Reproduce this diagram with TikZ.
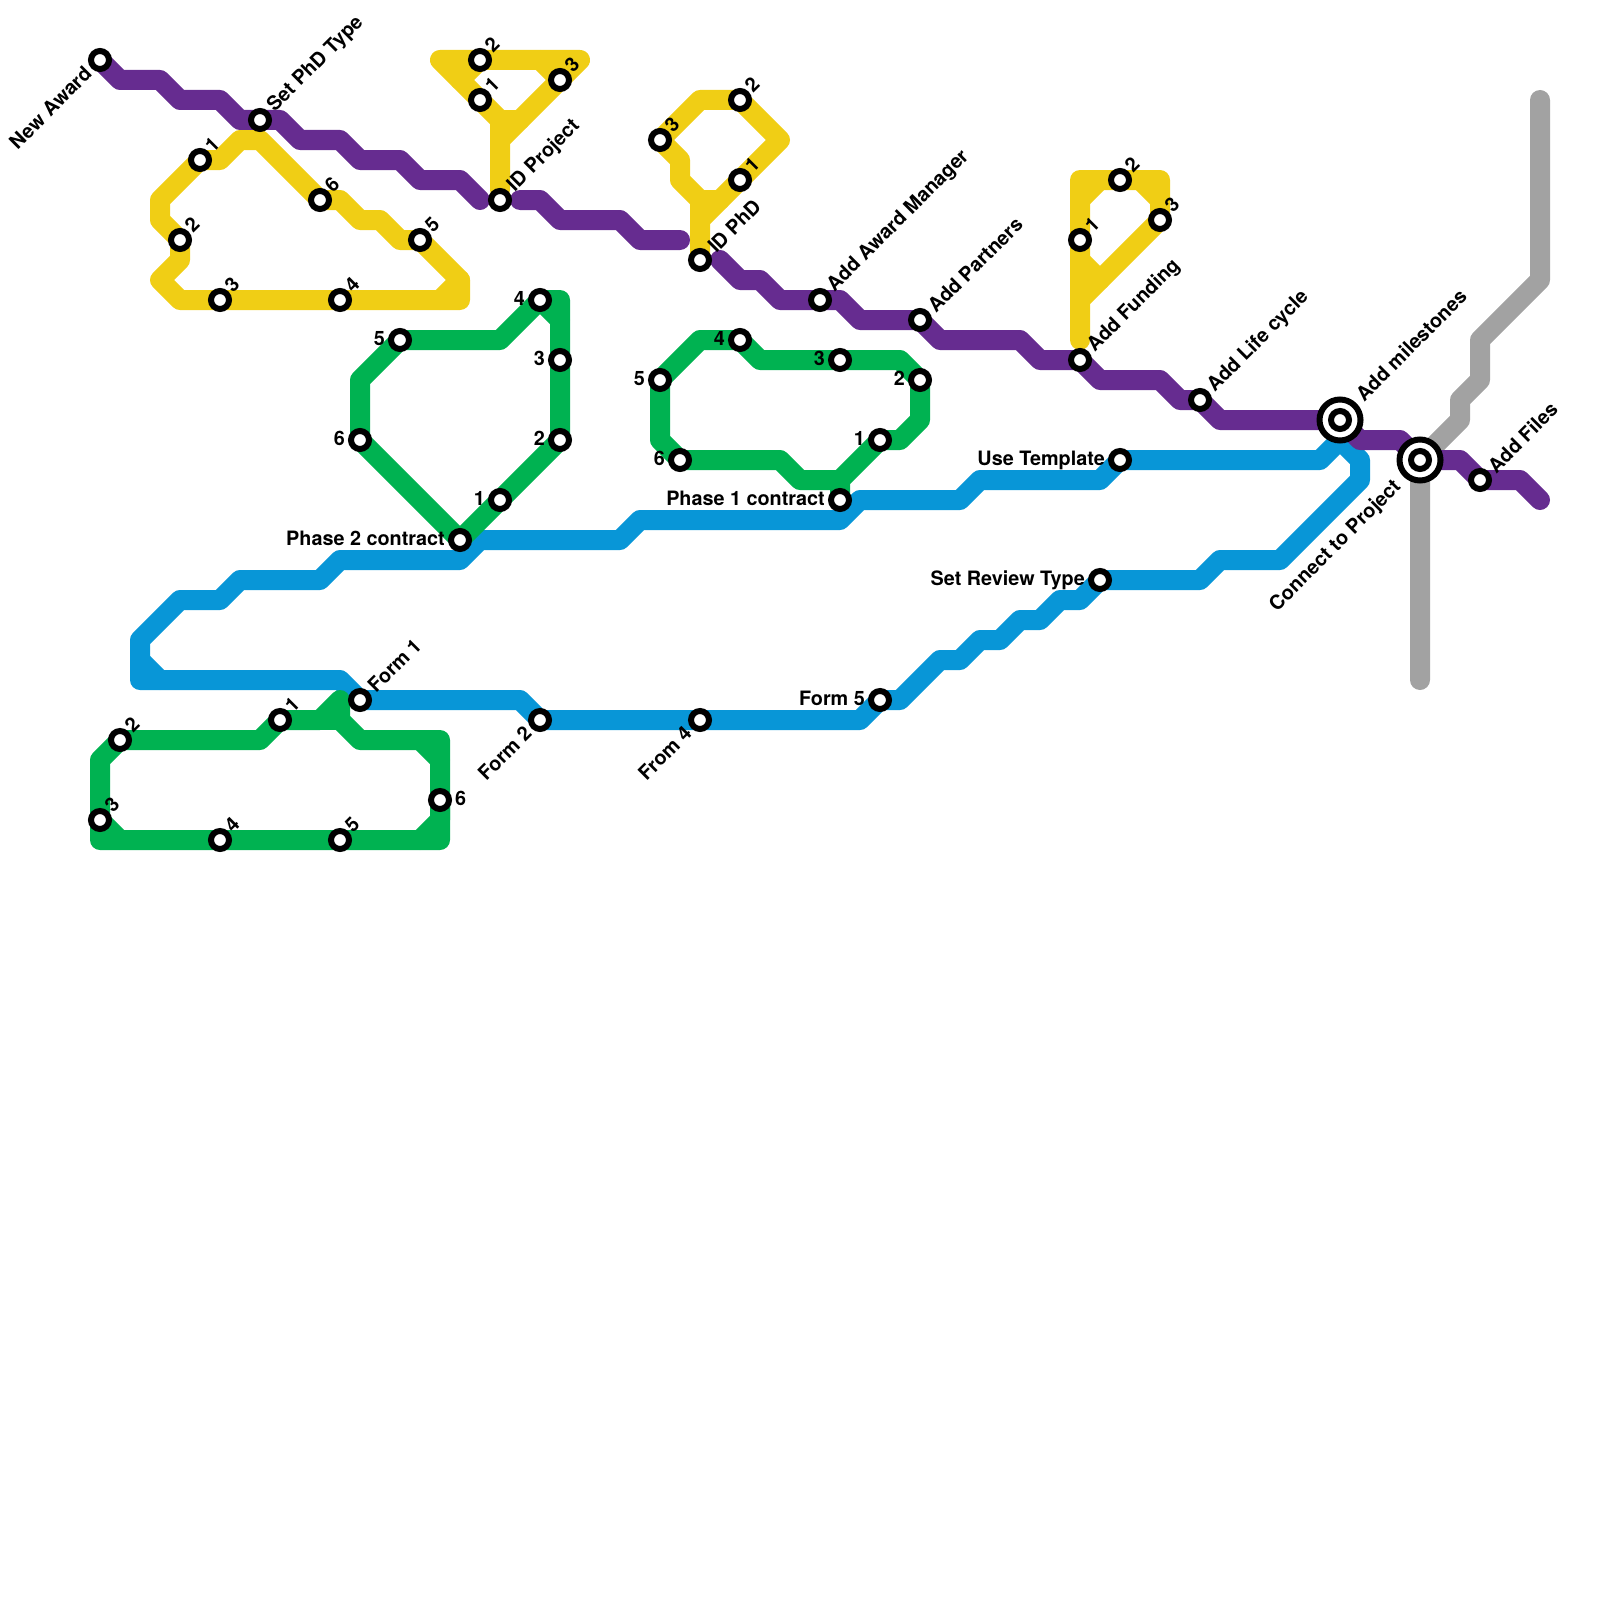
\documentclass[tikz,border=0pt]{standalone}
\usepackage{fontspec}
\setmainfont{TeX Gyre Heros}
\usetikzlibrary{backgrounds}
\definecolor{linepurple}{HTML}{662C90}
\definecolor{lineyellow}{HTML}{F0CE15}
\definecolor{linegreen}{HTML}{00B251}
\definecolor{lineblue}{HTML}{0896D7}
\definecolor{linegray}{HTML}{A2A2A2}
\begin{document}
\begin{tikzpicture}[
    x=1pt, y=-1pt,
    track/.style={line width=20pt, line join=round, line cap=round},
    st/.style={draw=black, fill=white, circle, line width=6pt, minimum size=18pt, inner sep=0pt},
    ring/.style={draw=black, fill=white, circle, line width=6pt, minimum size=41pt, inner sep=0pt},
    lbl/.style={font=\bfseries\fontsize{19.8}{24}\selectfont, inner sep=0pt},
    lne/.style={lbl, xshift=8pt, yshift=11pt, rotate=45, anchor=west},
    ltext/.style={lbl, xshift=11pt, yshift=11pt, rotate=45, anchor=west},
    lsw/.style={lbl, xshift=-12pt, yshift=-10pt, rotate=45, anchor=east},
    lleft/.style={lbl, xshift=-15pt, yshift=-5pt, anchor=base east},
    lright/.style={lbl, xshift=15pt, yshift=-5pt, anchor=base west}
]
\useasboundingbox (0,0) rectangle (1600,1600);

\node[st] (newaward) at (100,60) {};
\node[st] (setphd) at (260,120) {};
\node[st] (idproject) at (500,200) {};
\node[st] (idphd) at (700,260) {};
\node[st] (awardmgr) at (820,300) {};
\node[st] (partners) at (920,320) {};
\node[st] (funding) at (1080,360) {};
\node[st] (lifecycle) at (1200,400) {};
\node[ring] (milestonesring) at (1340,420) {};
\node[st] (milestones) at (1340,420) {};
\node[ring] (connectring) at (1420,460) {};
\node[st] (connect) at (1420,460) {};
\node[st] (files) at (1480,480) {};

\node[lsw] (newawardl) at (newaward) {New Award};
\node[ltext] (setphdl) at (setphd) {Set PhD Type};
\node[ltext] (idprojectl) at (idproject) {ID Project};
\node[ltext] (idphdl) at (idphd) {ID PhD};
\node[ltext] (awardmgrl) at (awardmgr) {Add Award Manager};
\node[ltext] (partnersl) at (partners) {Add Partners};
\node[ltext] (fundingl) at (funding) {Add Funding};
\node[ltext] (lifecyclel) at (lifecycle) {Add Life cycle};
\node[xshift=8pt, yshift=12pt, ltext] (milestonesl) at (milestones) {Add milestones};
\node[xshift=-10pt, yshift=-14pt, lsw] (connectl) at (connect) {Connect to Project};
\node[ltext] (filesl) at (files) {Add Files};

\node[st] (ya1) at (200,160) {};
\node[st] (ya2) at (180,240) {};
\node[st] (ya3) at (220,300) {};
\node[st] (ya4) at (340,300) {};
\node[st] (ya5) at (420,240) {};
\node[st] (ya6) at (320,200) {};
\node[lne] (ya1l) at (ya1) {1};
\node[lne] (ya2l) at (ya2) {2};
\node[lne] (ya3l) at (ya3) {3};
\node[lne] (ya4l) at (ya4) {4};
\node[lne] (ya5l) at (ya5) {5};
\node[lne] (ya6l) at (ya6) {6};

\node[st] (yb1) at (480,100) {};
\node[st] (yb2) at (480,60) {};
\node[st] (yb3) at (560,80) {};
\node[lne] (yb1l) at (yb1) {1};
\node[lne] (yb2l) at (yb2) {2};
\node[lne] (yb3l) at (yb3) {3};

\node[st] (yc1) at (740,180) {};
\node[st] (yc2) at (740,100) {};
\node[st] (yc3) at (660,140) {};
\node[lne] (yc1l) at (yc1) {1};
\node[lne] (yc2l) at (yc2) {2};
\node[lne] (yc3l) at (yc3) {3};

\node[st] (yd1) at (1080,240) {};
\node[st] (yd2) at (1120,180) {};
\node[st] (yd3) at (1160,220) {};
\node[lne] (yd1l) at (yd1) {1};
\node[lne] (yd2l) at (yd2) {2};
\node[lne] (yd3l) at (yd3) {3};

\node[st] (phasetwo) at (460,540) {};
\node[st] (ga1) at (500,500) {};
\node[st] (ga2) at (560,440) {};
\node[st] (ga3) at (560,360) {};
\node[st] (ga4) at (540,300) {};
\node[st] (ga5) at (400,340) {};
\node[st] (ga6) at (360,440) {};
\node[lleft] (phasetwol) at (phasetwo) {Phase 2 contract};
\node[lleft] (ga1l) at (ga1) {1};
\node[lleft] (ga2l) at (ga2) {2};
\node[lleft] (ga3l) at (ga3) {3};
\node[lleft] (ga4l) at (ga4) {4};
\node[lleft] (ga5l) at (ga5) {5};
\node[lleft] (ga6l) at (ga6) {6};

\node[st] (phaseone) at (840,500) {};
\node[st] (gb1) at (880,440) {};
\node[st] (gb2) at (920,380) {};
\node[st] (gb3) at (840,360) {};
\node[st] (gb4) at (740,340) {};
\node[st] (gb5) at (660,380) {};
\node[st] (gb6) at (680,460) {};
\node[lleft] (phaseonel) at (phaseone) {Phase 1 contract};
\node[lleft] (gb1l) at (gb1) {1};
\node[lleft] (gb2l) at (gb2) {2};
\node[lleft] (gb3l) at (gb3) {3};
\node[lleft] (gb4l) at (gb4) {4};
\node[lleft] (gb5l) at (gb5) {5};
\node[lleft] (gb6l) at (gb6) {6};

\node[st] (gc1) at (280,720) {};
\node[st] (gc2) at (120,740) {};
\node[st] (gc3) at (100,820) {};
\node[st] (gc4) at (220,840) {};
\node[st] (gc5) at (340,840) {};
\node[st] (gc6) at (440,800) {};
\node[lne] (gc1l) at (gc1) {1};
\node[lne] (gc2l) at (gc2) {2};
\node[lne] (gc3l) at (gc3) {3};
\node[lne] (gc4l) at (gc4) {4};
\node[lne] (gc5l) at (gc5) {5};
\node[lright] (gc6l) at (gc6) {6};

\node[st] (form1) at (360,700) {};
\node[st] (form2) at (540,720) {};
\node[st] (form4) at (700,720) {};
\node[st] (form5) at (880,700) {};
\node[st] (review) at (1100,580) {};
\node[st] (template) at (1120,460) {};
\node[ltext] (form1l) at (form1) {Form 1};
\node[lsw] (form2l) at (form2) {Form 2};
\node[lsw] (form4l) at (form4) {From 4};
\node[lleft] (form5l) at (form5) {Form 5};
\node[lleft] (reviewl) at (review) {Set Review Type};
\node[lleft] (templatel) at (template) {Use Template};

\coordinate (grayend) at (1540,100);
\coordinate (graybottom) at (1420,680);
\coordinate (purpleA) at (480,200);
\coordinate (purpleB) at (520,200);
\coordinate (purpleC) at (680,240);
\coordinate (purpleD) at (720,260);
\coordinate (purpleE) at (1540,500);

\begin{scope}[on background layer]
\draw[track, linegray] (grayend) -- (1540,280) -- (1480,340) -- (1480,380) -- (1460,400) -- (1460,420) -- (connect.center) -- (graybottom);

\draw[track, lineblue] (form1.center) -- (340,680) -- (140,680) -- (140,640) -- (180,600) -- (220,600) -- (240,580) -- (320,580) -- (340,560) -- (460,560) -- (480,540) -- (620,540) -- (640,520) -- (840,520) -- (860,500) -- (960,500) -- (980,480) -- (1100,480) -- (template.center) -- (1320,460) -- (1340,440) -- (1360,460) -- (1360,480) -- (1280,560) -- (1220,560) -- (1200,580) -- (review.center) -- (1080,600) -- (1060,600) -- (1040,620) -- (1020,620) -- (1000,640) -- (980,640) -- (960,660) -- (940,660) -- (900,700) -- (form5.center) -- (860,720) -- (form4.center) -- (form2.center) -- (520,700) -- (form1.center);
\draw[track, lineblue] (140,660) -- (160,680);

\draw[track, linegreen] (phasetwo.center) -- (ga6.center) -- (360,380) -- (ga5.center) -- (500,340) -- (ga4.center) -- (560,300) -- (ga3.center) -- (ga2.center) -- (ga1.center) -- (phasetwo.center);
\draw[track, linegreen] (ga4.center) -- (560,320);

\draw[track, linegreen] (phaseone.center) -- (840,480) -- (800,480) -- (780,460) -- (gb6.center) -- (660,440) -- (gb5.center) -- (700,340) -- (gb4.center) -- (760,360) -- (gb3.center) -- (900,360) -- (gb2.center) -- (920,420) -- (900,440) -- (gb1.center) -- (840,480);

\draw[track, linegreen] (340,700) -- (320,720) -- (gc1.center) -- (260,740) -- (gc2.center) -- (100,760) -- (gc3.center) -- (100,840) -- (gc4.center) -- (gc5.center) -- (440,840) -- (gc6.center) -- (440,740) -- (360,740) -- (340,720) -- (340,700);
\draw[track, linegreen] (gc1.center) -- (340,720);
\draw[track, linegreen] (gc3.center) -- (120,840);
\draw[track, linegreen] (420,740) -- (440,760);
\draw[track, linegreen] (gc6.center) -- (440,820) -- (420,840);

\draw[track, lineyellow] (260,140) -- (ya6.center) -- (340,200) -- (360,220) -- (380,220) -- (400,240) -- (ya5.center) -- (460,280) -- (460,300) -- (ya4.center) -- (ya3.center) -- (180,300) -- (160,280) -- (180,260) -- (ya2.center) -- (160,220) -- (160,200) -- (ya1.center) -- (220,160) -- (240,140) -- cycle;
\draw[track, lineyellow] (460,280) -- (440,300);

\draw[track, lineyellow] (500,190) -- (500,120) -- (yb1.center) -- (440,60) -- (yb2.center) -- (580,60) -- (yb3.center) -- (500,140);
\draw[track, lineyellow] (yb2.center) -- (460,80);
\draw[track, lineyellow] (540,60) -- (yb3.center);
\draw[track, lineyellow] (500,120) -- (520,120);

\draw[track, lineyellow] (idphd.center) -- (700,200) -- (680,180) -- (680,160) -- (yc3.center) -- (700,100) -- (yc2.center) -- (780,140) -- (yc1.center) -- (700,220);
\draw[track, lineyellow] (700,200) -- (720,200);

\draw[track, lineyellow] (1080,340) -- (yd1.center) -- (1080,180) -- (yd2.center) -- (1160,180) -- (yd3.center) -- (1080,300);
\draw[track, lineyellow] (1080,200) -- (1100,180);
\draw[track, lineyellow] (1140,180) -- (1160,200);
\draw[track, lineyellow] (1080,260) -- (1100,280);

\draw[track, linepurple] (newaward.center) -- (120,80) -- (160,80) -- (180,100) -- (220,100) -- (240,120) -- (setphd.center) -- (280,120) -- (300,140) -- (340,140) -- (360,160) -- (400,160) -- (420,180) -- (460,180) -- (purpleA);
\draw[track, linepurple] (purpleB) -- (540,200) -- (560,220) -- (620,220) -- (640,240) -- (purpleC);
\draw[track, linepurple] (purpleD) -- (740,280) -- (760,280) -- (780,300) -- (awardmgr.center) -- (840,300) -- (860,320) -- (partners.center) -- (940,340) -- (1020,340) -- (1040,360) -- (funding.center) -- (1100,380) -- (1160,380) -- (1180,400) -- (lifecycle.center) -- (1220,420) -- (milestones.center) -- (1360,440) -- (1400,440) -- (connect.center) -- (1460,460) -- (files.center) -- (1520,480) -- (purpleE);
\end{scope}
\end{tikzpicture}
\end{document}
